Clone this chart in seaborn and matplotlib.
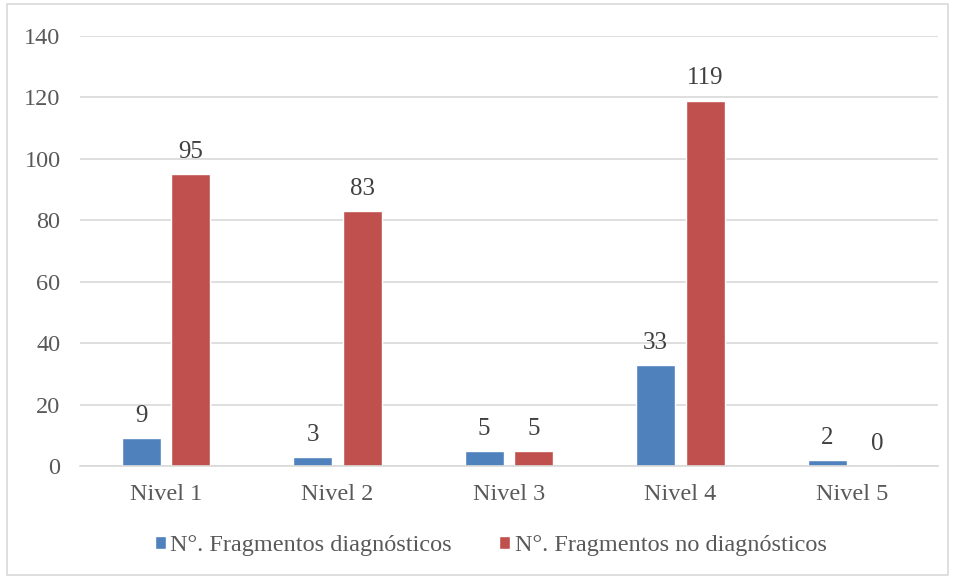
import pandas as pd
import seaborn as sns
import matplotlib.pyplot as plt
from matplotlib.patches import Rectangle

niveles = ["Nivel 1", "Nivel 2", "Nivel 3", "Nivel 4", "Nivel 5"]
diagnosticos = [9, 3, 5, 33, 2]
no_diagnosticos = [95, 83, 5, 119, 0]
series_names = ["N°. Fragmentos diagnósticos", "N°. Fragmentos no diagnósticos"]
y_ticks = [0, 20, 40, 60, 80, 100, 120, 140]

df = pd.DataFrame({
    "nivel": niveles * 2,
    "serie": [series_names[0]] * len(niveles) + [series_names[1]] * len(niveles),
    "valor": diagnosticos + no_diagnosticos,
})

sns.set_theme(style="white")
plt.rcParams["font.family"] = ["Liberation Serif", "DejaVu Serif"]
text_color = "#595959"

fig = plt.figure(figsize=(9.55, 5.79), dpi=100)
ax = fig.add_axes([0.0838, 0.1952, 0.8982, 0.7426])

sns.barplot(
    data=df, x="nivel", y="valor", hue="serie",
    palette=["#4F81BD", "#C0504D"], width=0.577, gap=0.21,
    saturation=1, ax=ax, legend=True,
)

for cont in ax.containers:
    ax.bar_label(cont, padding=8, fontsize=18, color="#404040")

ax.set_ylim(0, 140)
ax.set_yticks(y_ticks)
ax.set_xlim(-0.5, len(niveles) - 0.5)
ax.yaxis.grid(True, color="#D9D9D9", linewidth=1.2)
ax.set_axisbelow(True)
for side in ["top", "right", "left"]:
    ax.spines[side].set_visible(False)
ax.spines["bottom"].set_color("#D9D9D9")
ax.spines["bottom"].set_linewidth(1.2)
ax.tick_params(axis="both", length=0, labelsize=17.5, colors=text_color)
ax.tick_params(axis="x", pad=13)
ax.tick_params(axis="y", pad=14)
ax.set_xlabel("")
ax.set_ylabel("")

handles, labels = ax.get_legend_handles_labels()
ax.legend_.remove()
fig.legend(
    handles, labels, loc="center", bbox_to_anchor=(0.514, 0.057), ncol=2,
    frameon=False, fontsize=17.5, labelcolor=text_color,
    handlelength=0.45, handleheight=0.45, handletextpad=0.2, columnspacing=1.95,
)

fig.patches.append(Rectangle((0.007, 0.007), 0.986, 0.986, transform=fig.transFigure,
                             fill=False, edgecolor="#D9D9D9", linewidth=1.2))

fig.savefig("out.png", dpi=100)
